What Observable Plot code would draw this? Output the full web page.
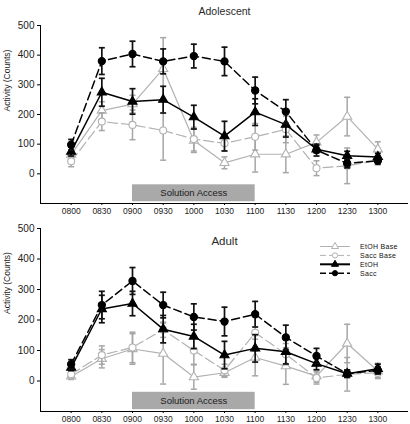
<!DOCTYPE html>
<html><head><meta charset="utf-8">
<script src="https://cdn.jsdelivr.net/npm/d3@7"></script>
<script src="https://cdn.jsdelivr.net/npm/@observablehq/plot@0.6"></script>
<style>
body{margin:0;background:#fff;font-family:"Liberation Sans",Arial,sans-serif;}
#chart{width:410px;height:424px;position:relative;}
.panel{position:relative;width:410px;}
.panel svg{display:block;}
.legend{position:absolute;left:0;top:0;pointer-events:none;}
</style></head><body><div id="chart"></div>
<script>
// ---- data ----
const times = ["0800","0830","0900","0930","1000","1030","1100","1130","1200","1230","1300"];
const yTicks = [0, 100, 200, 300, 400, 500];
const accessWindow = ["0900", "1100"];
const accessLabel = "Solution Access";
const seriesNames = ["EtOH Base", "Sacc Base", "EtOH", "Sacc"];

// Adolescent
const adoEtohBase   = [65, 213, 235, 354, 112, 37, 66, 66, 106, 193, 83];
const adoEtohBaseSE = [15, 30, 30, 105, 40, 20, 60, 62, 25, 65, 25];
const adoSaccBase   = [42, 176, 165, 146, 117, 103, 125, 150, 19, 27, 45];
const adoSaccBaseSE = [18, 30, 50, 100, 40, 25, 45, 45, 25, 60, 15];
const adoEtoh       = [75, 275, 244, 250, 191, 127, 208, 166, 83, 61, 57];
const adoEtohSE     = [15, 47, 43, 45, 40, 50, 45, 42, 12, 15, 12];
const adoSacc       = [98, 380, 404, 379, 397, 379, 281, 210, 80, 35, 44];
const adoSaccSE     = [18, 45, 43, 42, 40, 48, 45, 40, 20, 15, 10];

// Adult
const aduEtohBase   = [15, 73, 105, 90, 13, 27, 77, 49, 16, 123, 33];
const aduEtohBaseSE = [10, 30, 50, 100, 40, 15, 60, 60, 20, 63, 25];
const aduSaccBase   = [22, 85, 110, 168, 100, 35, 158, 88, 10, 22, 27];
const aduSaccBaseSE = [12, 30, 50, 25, 45, 20, 60, 35, 20, 55, 15];
const aduEtoh       = [44, 236, 254, 170, 146, 85, 107, 96, 57, 24, 40];
const aduEtohSE     = [10, 45, 40, 45, 40, 45, 45, 40, 20, 12, 15];
const aduSacc       = [55, 249, 328, 249, 210, 195, 219, 143, 82, 24, 35];
const aduSaccSE     = [15, 45, 44, 42, 43, 47, 42, 40, 25, 12, 12];

// ---- styles ----
const GRAY = "#b2b2b2", GRAY_ERR = "#a6a6a6";
const styles = [
  {stroke: GRAY, err: GRAY_ERR, dash: null, symbol: "triangle", fill: "#fff", r: 3.4, width: 1.2, errWidth: 1.5, legendWidth: 1},
  {stroke: GRAY, err: GRAY_ERR, dash: "10,4", symbol: "circle", fill: "#fff", r: 3.5, width: 1.2, errWidth: 1.5, legendWidth: 1},
  {stroke: "#000", err: "#111", dash: null, symbol: "triangle", fill: "#000", r: 3.4, width: 1.5, errWidth: 1.7, legendWidth: 2},
  {stroke: "#000", err: "#111", dash: "8,4", symbol: "circle", fill: "#000", r: 3.6, width: 1.5, errWidth: 1.7, legendWidth: 1.5}
];
const capSymbol = {draw(ctx) { ctx.moveTo(-3, 0); ctx.lineTo(3, 0); }};
const FONT = "'Liberation Sans', Arial, sans-serif";

const X_MIN = -1, X_MAX = times.length;
const Y_MIN = -100, Y_MAX = 500;

function rows(values, se) {
  return values.map((v, i) => ({i, v, lo: v - se[i], hi: v + se[i]}));
}

function seriesMarks(data, s) {
  return [
    Plot.ruleX(data, {x: "i", y1: "lo", y2: "hi", stroke: s.err, strokeWidth: s.errWidth}),
    Plot.dot(data, {x: "i", y: "hi", symbol: capSymbol, r: 3, fill: "none", stroke: s.err, strokeWidth: s.errWidth}),
    Plot.dot(data, {x: "i", y: "lo", symbol: capSymbol, r: 3, fill: "none", stroke: s.err, strokeWidth: s.errWidth}),
    Plot.line(data, {x: "i", y: "v", stroke: s.stroke, strokeWidth: s.width, strokeDasharray: s.dash}),
    Plot.dot(data, {x: "i", y: "v", symbol: s.symbol, r: s.r, fill: s.fill, stroke: s.stroke, strokeWidth: 1.1})
  ];
}

function panel({title, titleDy, titleSize, series, height, marginTop, marginBottom, labelDy}) {
  const a0 = times.indexOf(accessWindow[0]), a1 = times.indexOf(accessWindow[1]);
  const marks = [
    Plot.rect([accessLabel], {x1: a0, x2: a1, y1: -94, y2: -37, fill: "#a9a9a9"}),
    Plot.text([accessLabel], {x: (a0 + a1) / 2, y: -65, text: d => d, fontSize: 9.5, fill: "#1a1a1a"}),
    Plot.ruleX([X_MIN], {y1: Y_MIN, y2: Y_MAX, stroke: "#000", strokeWidth: 1}),
    Plot.ruleY([Y_MIN], {x1: X_MIN, x2: X_MAX, stroke: "#000", strokeWidth: 1}),
    Plot.axisY(yTicks, {tickSize: 3, tickPadding: 3, fontSize: 10, label: null, stroke: "#000", fill: "#222"}),
    Plot.axisX(d3.range(times.length), {tickSize: 2, tickPadding: 2, fontSize: 8.5, label: null, tickFormat: i => times[i], stroke: "#000", fill: "#222"}),
    Plot.text(["Activity (Counts)"], {frameAnchor: "left", rotate: -90, dx: -33, dy: labelDy, text: d => d, fontSize: 8.5, fill: "#222"}),
    Plot.text([title], {frameAnchor: "top", dy: titleDy, text: d => d, fontSize: titleSize, fill: "#2a2a2a", fontWeight: "normal"})
  ];
  series.forEach((d, k) => marks.push(...seriesMarks(d, styles[k])));
  return Plot.plot({
    width: 410, height, marginLeft: 40, marginRight: 2, marginTop, marginBottom,
    x: {domain: [X_MIN, X_MAX], axis: null},
    y: {domain: [Y_MIN, Y_MAX], axis: null},
    style: {fontFamily: FONT, background: "#fff", color: "#111"},
    marks
  });
}

const chartEl = document.getElementById("chart");

const topPlot = panel({
  title: "Adolescent", titleDy: -18, titleSize: 10.5, height: 218, marginTop: 25, marginBottom: 15, labelDy: -3,
  series: [rows(adoEtohBase, adoEtohBaseSE), rows(adoSaccBase, adoSaccBaseSE), rows(adoEtoh, adoEtohSE), rows(adoSacc, adoSaccSE)]
});
const p1 = document.createElement("div"); p1.className = "panel"; p1.appendChild(topPlot); chartEl.appendChild(p1);

const bottomPlot = panel({
  title: "Adult", titleDy: 8, titleSize: 11.5, height: 206, marginTop: 10, marginBottom: 13, labelDy: -6,
  series: [rows(aduEtohBase, aduEtohBaseSE), rows(aduSaccBase, aduSaccBaseSE), rows(aduEtoh, aduEtohSE), rows(aduSacc, aduSaccSE)]
});
const p2 = document.createElement("div"); p2.className = "panel"; p2.appendChild(bottomPlot); chartEl.appendChild(p2);

// legend (top-right of the Adult panel)
const lg = d3.select(p2).append("svg").attr("class", "legend").attr("width", 410).attr("height", 206)
  .style("font-family", FONT);
seriesNames.forEach((name, k) => {
  const s = styles[k];
  const y = 28.5 + k * 8.9;
  const g = lg.append("g").attr("transform", `translate(0,${y})`);
  g.append("line").attr("x1", 320).attr("x2", 350).attr("y1", 0).attr("y2", 0)
    .attr("stroke", s.stroke).attr("stroke-width", s.legendWidth).attr("stroke-dasharray", s.dash ? "6,3" : null);
  const sym = s.symbol === "triangle" ? d3.symbolTriangle : d3.symbolCircle;
  g.append("path").attr("transform", "translate(335,0)")
    .attr("d", d3.symbol(sym, Math.PI * 2.6 * 2.6)())
    .attr("fill", s.fill).attr("stroke", s.stroke).attr("stroke-width", 1);
  g.append("text").attr("x", 360).attr("y", 0).attr("dy", "0.35em")
    .attr("font-size", 7).attr("letter-spacing", "0.3px").attr("fill", "#111").text(name);
});
</script></body></html>
